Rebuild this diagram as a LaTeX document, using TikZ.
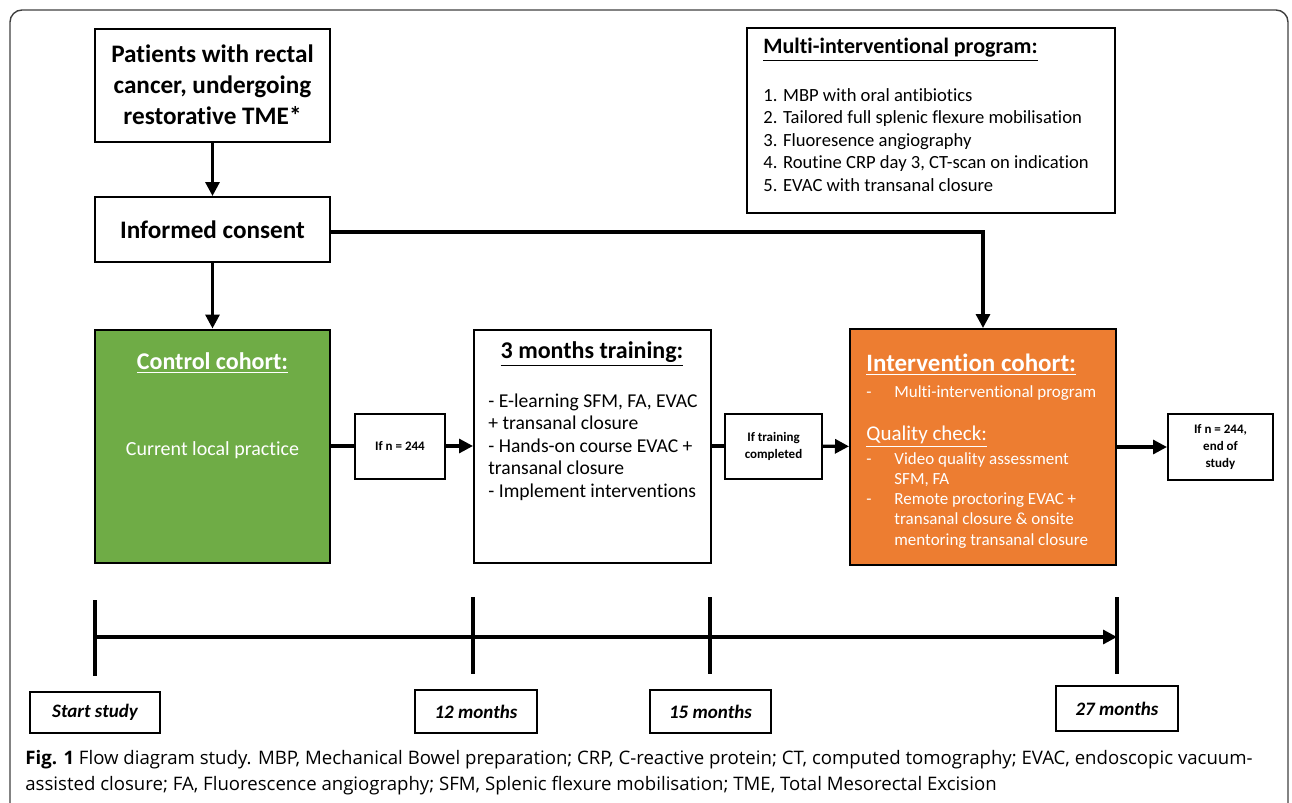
\documentclass[tikz,border=0pt]{standalone}
\usepackage{fontspec}
\setmainfont{Carlito}[Ligatures=NoCommon]
\newfontfamily\capfont{Open Sans}
\usetikzlibrary{arrows.meta}
\usetikzlibrary{positioning}

\definecolor{cohortgreen}{HTML}{6FAC46}
\definecolor{cohortorange}{HTML}{ED7D31}

\tikzset{
  box/.style={draw=black, line width=1pt, inner sep=0pt},
  bigbox/.style={box, font=\bfseries\fontsize{12.6}{15.5}\selectfont, align=center},
  smallbox/.style={box, font=\bfseries\fontsize{6.5}{8.5}\selectfont, align=center},
  timebox/.style={box, font=\bfseries\itshape\fontsize{9.5}{11}\selectfont},
  heading/.style={inner sep=0pt, font=\bfseries\fontsize{12}{14}\selectfont},
  flow/.style={line width=1.6pt, -{Triangle[length=7pt,width=7pt]}},
  tick/.style={line width=1.6pt},
}

\begin{document}
\begin{tikzpicture}[x=0.5pt,y=-0.5pt]
    \useasboundingbox (0,0) rectangle (1292,803);
    \draw[line width=0.7pt, black!75, rounded corners=6pt] (10,803) -- (10,10) -- (1288,10) -- (1288,803);

    % top part
    \node[bigbox, minimum width=117.5pt, minimum height=56.5pt] (patients) at (212.5,85)
        {Patients with rectal\\cancer, undergoing\\restorative TME*};
    \node[bigbox, minimum width=117.5pt, minimum height=32.5pt] (consent) at (212.5,229.5) {Informed consent};
    \node[box, minimum width=184pt, minimum height=92.5pt] (multi) at (931,120.5) {};
    \node[heading, anchor=west, font=\bfseries\fontsize{11}{13}\selectfont] (multihead) at (763,50)
        {\underline{Multi-interventional program:}};
    \node[inner sep=0pt, anchor=north west, align=left, font=\fontsize{9.3}{11.25}\selectfont] (multilist) at (763,88)
        {1. MBP with oral antibiotics\\
         2. Tailored full splenic flexure mobilisation\\
         3. Fluoresence angiography\\
         4. Routine CRP day 3, CT-scan on indication\\
         5. EVAC with transanal closure};

    % cohorts
    \node[box, fill=cohortgreen, minimum width=117.5pt, minimum height=116.5pt] (control) at (212.5,446) {};
    \node[heading, text=white] (controlhead) at (212.5,363) {\underline{Control cohort:}};
    \node[inner sep=0pt, text=white, font=\fontsize{10}{12}\selectfont] (controltext) at (212.5,450) {Current local practice};

    \node[smallbox, minimum width=45pt, minimum height=32.5pt] (nfirst) at (400,446) {If n = 244};

    \node[box, minimum width=118.5pt, minimum height=116.5pt] (training) at (592.5,446) {};
    \node[heading] (traininghead) at (592,354) {\underline{3 months training:}};
    \node[inner sep=0pt, anchor=north west, align=left, font=\fontsize{9.8}{11.25}\selectfont] (traininglist) at (488,393)
        {- E-learning SFM, FA, EVAC\\
         + transanal closure\\
         - Hands-on course EVAC +\\
         transanal closure\\
         - Implement interventions};

    \node[smallbox, minimum width=48.5pt, minimum height=32.5pt] (completed) at (773.5,446) {If training\\completed};

    \node[box, fill=cohortorange, minimum width=133pt, minimum height=118pt] (intervention) at (983,447) {};
    \node[heading, anchor=west, text=white, font=\bfseries\fontsize{12.5}{14}\selectfont] (interventionhead) at (866,365)
        {\underline{Intervention cohort:}};
    \node[inner sep=0pt, anchor=west, text=white, font=\fontsize{8.5}{10}\selectfont] (interventionitem) at (866,393)
        {\makebox[14pt][l]{-}Multi-interventional program};
    \node[inner sep=0pt, anchor=west, text=white, font=\fontsize{10.5}{13}\selectfont] (qualityhead) at (866,437)
        {\underline{Quality check:}};
    \node[inner sep=0pt, anchor=north west, align=left, text=white, font=\fontsize{8.5}{10.1}\selectfont] (qualitylist) at (866,452)
        {\makebox[14pt][l]{-}Video quality assessment\\
         \hspace*{14pt}SFM, FA\\
         \makebox[14pt][l]{-}Remote proctoring EVAC +\\
         \hspace*{14pt}transanal closure \& onsite\\
         \hspace*{14pt}mentoring transanal closure};

    \node[smallbox, minimum width=52.5pt, minimum height=33pt] (nend) at (1220.5,447) {If n = 244,\\end of\\study};

    \draw[flow] (patients) -- (consent);
    \draw[flow] (consent) -- (control);
    \draw[flow] (consent.east |- 0,232) -| (intervention.north);
    \draw[tick] (control) -- (nfirst);
    \draw[flow] (nfirst) -- (training);
    \draw[tick] (training) -- (completed);
    \draw[flow] (completed) -- (intervention);
    \draw[flow] (intervention.east |- nend) -- (nend);

    % timeline
    \coordinate (start) at (95,637);
    \coordinate (twelve) at (473,637);
    \coordinate (fifteen) at (710,637);
    \coordinate (end) at (1117,637);
    \draw[tick] (95,600) -- (95,676);
    \draw[tick] (473,597) -- (473,674);
    \draw[tick] (710,597) -- (710,674);
    \draw[tick] (1117,597) -- (1117,674);
    \draw[flow] (start) -- (end);

    \node[timebox, minimum width=65pt, minimum height=20.5pt] (startbox) at (95,712.5) {Start study};
    \node[timebox, minimum width=61pt, minimum height=21.5pt] (twelvebox) at (476,711.5) {12 months};
    \node[timebox, minimum width=60.5pt, minimum height=21.5pt] (fifteenbox) at (710.5,711.5) {15 months};
    \node[timebox, minimum width=61pt, minimum height=22.5pt] (endbox) at (1117,708.5) {27 months};

    % caption
    \node[inner sep=0pt, anchor=north west, align=left, font=\capfont\fontsize{9.3}{13}\selectfont] (caption) at (25,750)
        {\textbf{Fig. 1} Flow diagram study. MBP, Mechanical Bowel preparation; CRP, C-reactive protein; CT, computed tomography; EVAC, endoscopic vacuum-\\
         assisted closure; FA, Fluorescence angiography; SFM, Splenic flexure mobilisation; TME, Total Mesorectal Excision};
\end{tikzpicture}
\end{document}
